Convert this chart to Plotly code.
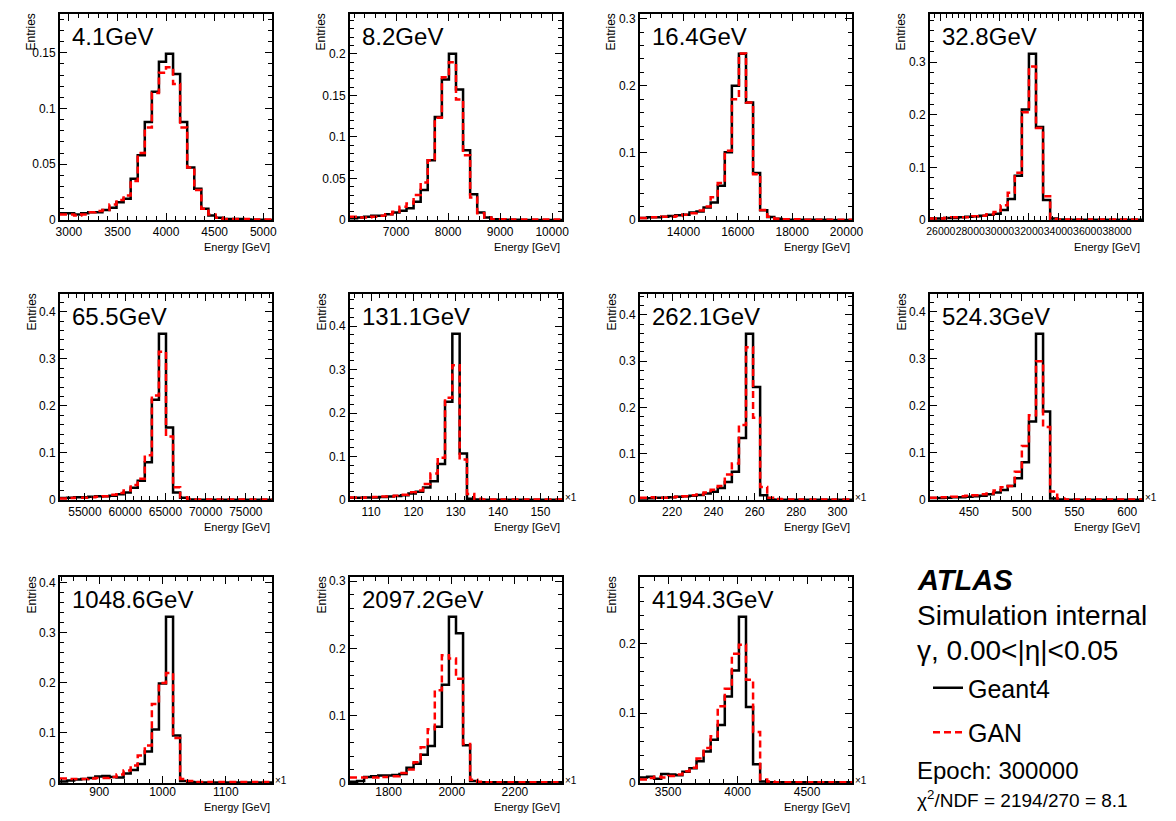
import plotly.graph_objects as go

FONT = "Liberation Sans, Arial, Helvetica, sans-serif"
# page body keeps an 8px margin, so the figure is drawn 16px smaller
W, H = 1160, 805
OFF = 8

# ---- data ----
energies = ["4.1GeV", "8.2GeV", "16.4GeV", "32.8GeV", "65.5GeV", "131.1GeV",
            "262.1GeV", "524.3GeV", "1048.6GeV", "2097.2GeV", "4194.3GeV"]
x_lo = [2908, 6112, 12400, 25260, 51900, 105.0, 204.5, 413, 838, 1678, 3298]
x_hi = [5090, 10190, 20200, 39700, 78250, 155.1, 307.0, 614, 1173, 2349, 4823]
x_step = [500, 1000, 2000, 2000, 5000, 10, 20, 50, 100, 200, 500]
y_step = [0.05, 0.05, 0.1, 0.1, 0.1, 0.1, 0.1, 0.1, 0.1, 0.1, 0.1]

g4_4p1 = [0.006, 0.006, 0.005, 0.006, 0.007, 0.007, 0.009, 0.011, 0.016, 0.019, 0.037, 0.058, 0.088, 0.115, 0.142,
          0.149, 0.131, 0.088, 0.047, 0.028, 0.010, 0.004, 0.002, 0.001, 0.001, 0.001, 0.0005, 0.0003, 0.0002, 0.0001]
gan_4p1 = [0.005, 0.005, 0.004, 0.005, 0.007, 0.008, 0.009, 0.014, 0.018, 0.022, 0.035, 0.060, 0.083, 0.114, 0.132,
           0.137, 0.122, 0.083, 0.047, 0.027, 0.010, 0.005, 0.002, 0.001, 0.001, 0.001, 0.001, 0.0005, 0.0005, 0.0005]

g4_8p2 = [0.002, 0.003, 0.004, 0.005, 0.005, 0.007, 0.009, 0.011, 0.014, 0.022, 0.036, 0.072, 0.124, 0.169, 0.200,
          0.157, 0.084, 0.031, 0.009, 0.003, 0.001, 0.0005, 0.0003, 0.0002, 0.0001, 0.0001, 0.0001, 0, 0, 0]
gan_8p2 = [0.004, 0.003, 0.003, 0.004, 0.005, 0.007, 0.010, 0.016, 0.020, 0.030, 0.045, 0.072, 0.123, 0.172, 0.190,
           0.145, 0.078, 0.027, 0.008, 0.003, 0.001, 0.001, 0.0005, 0.0005, 0.0005, 0.0005, 0.0005, 0.0005, 0.0005, 0.0005]

g4_16p4 = [0.003, 0.004, 0.004, 0.005, 0.006, 0.007, 0.008, 0.011, 0.0125, 0.0185, 0.026, 0.051, 0.101, 0.200, 0.2475,
           0.175, 0.070, 0.0145, 0.0045, 0.002, 0.001, 0.0005, 0.0005, 0.0003, 0.0003, 0.0002, 0.0002, 0.0001, 0.0001, 0.0001]
gan_16p4 = [0.003, 0.004, 0.004, 0.005, 0.005, 0.006, 0.008, 0.010, 0.014, 0.020, 0.034, 0.055, 0.103, 0.180, 0.248,
            0.175, 0.068, 0.015, 0.005, 0.002, 0.001, 0.001, 0.001, 0.0005, 0.0005, 0.0005, 0.0005, 0.0005, 0.0005, 0.0005]

g4_32p8 = [0.003, 0.003, 0.004, 0.004, 0.005, 0.006, 0.007, 0.008, 0.010, 0.012, 0.019, 0.040, 0.084, 0.210, 0.316,
           0.177, 0.038, 0.003, 0.001, 0.0005, 0.0003, 0.0003, 0.0003, 0.0003, 0.0003, 0.0003, 0.0003, 0.0003, 0.0003, 0.0003]
gan_32p8 = [0.003, 0.003, 0.004, 0.005, 0.005, 0.005, 0.007, 0.008, 0.011, 0.015, 0.028, 0.052, 0.090, 0.205, 0.292,
            0.175, 0.045, 0.002, 0.001, 0.001, 0.001, 0.001, 0.001, 0.001, 0.001, 0.001, 0.001, 0.001, 0.001, 0.001]

g4_65p5 = [0.004, 0.005, 0.006, 0.006, 0.007, 0.008, 0.008, 0.009, 0.012, 0.016, 0.026, 0.041, 0.080, 0.213, 0.353,
           0.154, 0.016, 0.005, 0.001, 0.0005, 0.0003, 0.0003, 0.0003, 0.0003, 0.0003, 0.0003, 0.0003, 0.0003, 0.0003, 0.0003]
gan_65p5 = [0.003, 0.004, 0.005, 0.005, 0.006, 0.007, 0.008, 0.011, 0.015, 0.020, 0.032, 0.045, 0.095, 0.222, 0.315,
            0.135, 0.027, 0.006, 0.002, 0.001, 0.001, 0.001, 0.001, 0.001, 0.001, 0.001, 0.001, 0.001, 0.001, 0.001]

g4_131p1 = [0.005, 0.005, 0.006, 0.006, 0.007, 0.008, 0.009, 0.011, 0.015, 0.019, 0.029, 0.043, 0.083, 0.226, 0.382,
            0.107, 0.003, 0.001, 0.0005, 0.0005, 0.0005, 0.0005, 0.0005, 0.0005, 0.0005, 0.0005, 0.0005, 0.0005, 0.0005]
gan_131p1 = [0.006, 0.005, 0.006, 0.007, 0.008, 0.008, 0.010, 0.012, 0.018, 0.022, 0.037, 0.061, 0.097, 0.235, 0.310,
             0.093, 0.014, 0.003, 0.001, 0.001, 0.001, 0.001, 0.001, 0.001, 0.001, 0.001, 0.001, 0.001, 0.001]

g4_262p1 = [0.003, 0.004, 0.005, 0.005, 0.006, 0.007, 0.008, 0.009, 0.011, 0.014, 0.018, 0.026, 0.039, 0.061, 0.134,
            0.359, 0.244, 0.010, 0.001, 0.0005, 0.0005, 0.0005, 0.0005, 0.0005, 0.0005, 0.0005, 0.0005, 0.0005, 0.0005, 0.0005]
gan_262p1 = [0.005, 0.006, 0.005, 0.005, 0.006, 0.007, 0.008, 0.010, 0.012, 0.016, 0.022, 0.030, 0.055, 0.079, 0.162,
             0.330, 0.178, 0.028, 0.005, 0.002, 0.001, 0.001, 0.001, 0.001, 0.001, 0.001, 0.001, 0.001, 0.001, 0.001]

g4_524p3 = [0.004, 0.004, 0.005, 0.006, 0.006, 0.007, 0.008, 0.009, 0.012, 0.016, 0.021, 0.030, 0.046, 0.080, 0.167,
            0.353, 0.188, 0.003, 0.001, 0.0005, 0.0005, 0.0005, 0.0005, 0.0005, 0.0005, 0.0005, 0.0005, 0.0005, 0.0005, 0.0005]
gan_524p3 = [0.005, 0.006, 0.006, 0.007, 0.008, 0.009, 0.010, 0.012, 0.014, 0.020, 0.027, 0.030, 0.060, 0.115, 0.180,
             0.295, 0.155, 0.018, 0.003, 0.001, 0.001, 0.001, 0.001, 0.001, 0.001, 0.001, 0.001, 0.001, 0.001, 0.001]

g4_1048p6 = [0.003, 0.005, 0.007, 0.008, 0.010, 0.013, 0.014, 0.012, 0.011, 0.019, 0.026, 0.038, 0.063, 0.107, 0.199,
             0.332, 0.095, 0.004, 0.002, 0.001, 0.001, 0.001, 0.001, 0.001, 0.001, 0.001, 0.001, 0.001, 0.001, 0.001]
gan_1048p6 = [0.009, 0.008, 0.008, 0.008, 0.009, 0.010, 0.010, 0.012, 0.017, 0.025, 0.035, 0.055, 0.075, 0.158, 0.200,
              0.220, 0.090, 0.008, 0.004, 0.002, 0.002, 0.002, 0.002, 0.002, 0.002, 0.002, 0.002, 0.002, 0.002, 0.002]

g4_2097p2 = [0.002, 0.003, 0.009, 0.010, 0.011, 0.011, 0.012, 0.0135, 0.0225, 0.0285, 0.042, 0.055, 0.0835, 0.146, 0.247,
             0.2225, 0.056, 0.003, 0.001, 0.001, 0.001, 0.001, 0.001, 0.001, 0.001, 0.001, 0.001, 0.001, 0.001, 0.001]
gan_2097p2 = [0.008, 0.008, 0.008, 0.008, 0.009, 0.009, 0.010, 0.015, 0.020, 0.031, 0.053, 0.080, 0.138, 0.190, 0.185,
              0.155, 0.058, 0.005, 0.002, 0.001, 0.001, 0.001, 0.001, 0.001, 0.001, 0.001, 0.001, 0.001, 0.001, 0.001]

g4_4194p3 = [0.008, 0.009, 0.006, 0.013, 0.012, 0.011, 0.016, 0.021, 0.031, 0.045, 0.062, 0.083, 0.124, 0.161, 0.238,
             0.109, 0.027, 0.002, 0.001, 0.001, 0.001, 0.001, 0.001, 0.001, 0.001, 0.001, 0.001, 0.001, 0.001, 0.001]
gan_4194p3 = [0.005, 0.007, 0.009, 0.008, 0.010, 0.012, 0.017, 0.022, 0.035, 0.050, 0.067, 0.110, 0.135, 0.185, 0.198,
              0.148, 0.073, 0.005, 0.002, 0.001, 0.001, 0.001, 0.001, 0.001, 0.001, 0.001, 0.001, 0.001, 0.001, 0.001]

geant4 = [g4_4p1, g4_8p2, g4_16p4, g4_32p8, g4_65p5, g4_131p1, g4_262p1, g4_524p3, g4_1048p6, g4_2097p2, g4_4194p3]
gan = [gan_4p1, gan_8p2, gan_16p4, gan_32p8, gan_65p5, gan_131p1, gan_262p1, gan_524p3, gan_1048p6, gan_2097p2, gan_4194p3]

# ---- pad layout (screen pixels of the reference) ----
col_left = [60, 350, 640, 930]
row_top = [14, 294, 577]
pad_w = 212
pad_h = 206


def px(x):
    return (x - OFF) / W


def py(y):
    return 1 - (y - OFF) / H


fig = go.Figure()
annotations = []

for i, name in enumerate(energies):
    n = i + 1
    r, c = divmod(i, 4)
    left = col_left[c]
    top = row_top[r]
    xs = "" if n == 1 else str(n)
    last_row = r == 2

    nb = len(geant4[i])
    width = (x_hi[i] - x_lo[i]) / nb
    edges = [x_lo[i] + k * width for k in range(nb + 1)]

    fig.add_trace(go.Scatter(
        x=edges, y=geant4[i] + [geant4[i][-1]], mode="lines", line_shape="hv",
        line=dict(color="black", width=2.5), name="Geant4",
        legendgroup="g4", showlegend=(i == 0),
        xaxis="x" + xs, yaxis="y" + xs, hoverinfo="skip"))
    fig.add_trace(go.Scatter(
        x=edges, y=gan[i] + [gan[i][-1]], mode="lines", line_shape="hv",
        line=dict(color="#ff0000", width=2.5, dash="7px,4px"), name="GAN",
        legendgroup="gan", showlegend=(i == 0),
        xaxis="x" + xs, yaxis="y" + xs, hoverinfo="skip"))

    ymax = 1.24 * max(geant4[i])
    # the 32.8 GeV pad has crowded labels, so they are set a little smaller
    xtick_size = 10.5 if i == 3 else 12
    common = dict(showline=True, linewidth=2, linecolor="black", mirror="allticks",
                  ticks="inside", ticklen=7, tickwidth=1.3, tickcolor="black",
                  showgrid=False, zeroline=False, automargin=False, tickangle=0)
    fig.update_layout(**{
        "xaxis" + xs: dict(common, domain=[px(left), px(left + pad_w)],
                           range=[x_lo[i], x_hi[i]], anchor="y" + xs,
                           tickmode="linear", tick0=0, dtick=x_step[i], tickformat="d",
                           ticklabelstandoff=-3 if last_row else 0,
                           tickfont=dict(family=FONT, size=xtick_size, color="black"),
                           minor=dict(ticks="inside", ticklen=4, tick0=0, dtick=x_step[i] / 5,
                                      tickcolor="black", showgrid=False)),
        "yaxis" + xs: dict(common, domain=[py(top + pad_h), py(top)],
                           range=[0, ymax], anchor="x" + xs,
                           tickmode="linear", tick0=0, dtick=y_step[i],
                           tickfont=dict(family=FONT, size=12, color="black"),
                           minor=dict(ticks="inside", ticklen=4, tick0=0, dtick=y_step[i] / 5,
                                      tickcolor="black", showgrid=False)),
    })

    annotations.append(dict(text=name, xref="paper", yref="paper",
                            x=px(left + 10), y=py(top + 22),
                            xanchor="left", yanchor="middle", showarrow=False,
                            font=dict(family=FONT, size=24, color="black")))
    annotations.append(dict(text="Entries", xref="paper", yref="paper", textangle=-90,
                            x=px(left - 29), y=py(top - 2),
                            xanchor="center", yanchor="top", showarrow=False,
                            font=dict(family=FONT, size=12, color="black")))
    annotations.append(dict(text="Energy [GeV]", xref="paper", yref="paper",
                            x=px(left + pad_w), y=py(top + pad_h + (24 if last_row else 27)),
                            xanchor="right", yanchor="middle", showarrow=False,
                            font=dict(family=FONT, size=11, color="black")))
    if i >= 5:
        annotations.append(dict(text="×1", xref="paper", yref="paper",
                                x=px(left + pad_w + 1), y=py(top + pad_h - 3),
                                xanchor="left", yanchor="middle", showarrow=False,
                                font=dict(family=FONT, size=10, color="black")))

# ATLAS label block
info = [("<b><i>ATLAS</i></b>", 580, 29), ("Simulation internal", 615, 28),
        ("γ, 0.00<|η|<0.05", 650, 28), ("Epoch: 300000", 770, 24),
        ("χ<sup>2</sup>/NDF = 2194/270 = 8.1", 799, 19)]
for text, ypix, size in info:
    annotations.append(dict(text=text, xref="paper", yref="paper",
                            x=px(915), y=py(ypix), xanchor="left", yanchor="middle",
                            showarrow=False, font=dict(family=FONT, size=size, color="black")))

fig.update_layout(
    width=W, height=H, margin=dict(l=0, r=0, t=0, b=0, autoexpand=False),
    paper_bgcolor="white", plot_bgcolor="white",
    annotations=annotations,
    legend=dict(x=px(928), y=py(665), xanchor="left", yanchor="top",
                font=dict(family=FONT, size=25, color="black"),
                bgcolor="rgba(0,0,0,0)", tracegroupgap=9, traceorder="grouped"),
)

fig.write_html("out.html")
